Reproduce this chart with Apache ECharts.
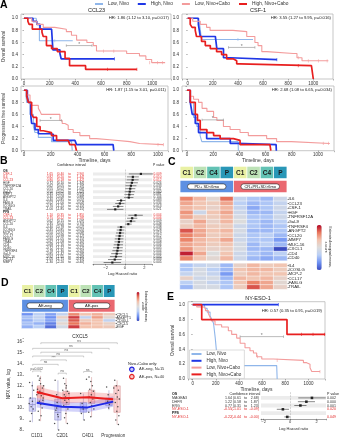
<!DOCTYPE html>
<html>
<head>
<meta charset="utf-8">
<script src="https://cdn.jsdelivr.net/npm/echarts@6.0.0/dist/echarts.min.js"></script>
<style>
html,body{margin:0;padding:0;background:#fff;}
#chart{width:341px;height:440px;}
</style>
</head>
<body>
<div id="chart"></div>
<script>
// ================= DATA =================
// Panel A / E : Kaplan-Meier steps [day, survival]
const kmNames = ['Low, Nivo','High, Nivo','Low, Nivo+Cabo','High, Nivo+Cabo'];

const osCCL23_lowNivo  = [[0,1],[95,1],[100,0.9],[120,0.63],[380,0.63]];
const osCCL23_highNivo = [[0,1],[70,0.95],[100,0.9],[125,0.82],[215,0.82],[225,0.48],[280,0.42],[290,0.33],[705,0.33]];
const osCCL23_lowCabo  = [[0,1],[60,0.95],[100,0.9],[150,0.85],[240,0.82],[330,0.78],[370,0.72],[410,0.64],[490,0.6],[540,0.55],[565,0.46],[750,0.46],[800,0.42],[900,0.38],[950,0.32],[995,0.27],[1100,0.27]];
const osCCL23_highCabo = [[0,1],[30,0.95],[40,0.9],[65,0.82],[140,0.77],[150,0.7],[175,0.55],[215,0.5],[260,0.45],[320,0.34],[355,0.22],[480,0.16],[880,0.16]];
const osCCL23_censor   = [[[240,0.63]],[[705,0.33]],[[620,0.46],[700,0.46],[980,0.27],[1040,0.27],[1080,0.27]],[[650,0.16],[880,0.16]]];
const osCCL23_bar      = [330,530,0.55];

const osCSF1_lowNivo  = [[0,1],[80,1],[95,0.9],[110,0.65],[520,0.65]];
const osCSF1_highNivo = [[0,1],[85,0.9],[100,0.7],[220,0.7],[232,0.5],[285,0.35],[340,0.32],[710,0.32]];
const osCSF1_lowCabo  = [[0,1],[40,0.95],[100,0.9],[150,0.85],[178,0.8],[360,0.78],[470,0.7],[535,0.6],[560,0.55],[590,0.45],[630,0.42],[840,0.42],[870,0.35],[910,0.3],[1120,0.3]];
const osCSF1_highCabo = [[0,1],[20,0.9],[35,0.85],[60,0.8],[70,0.7],[110,0.62],[140,0.55],[180,0.5],[230,0.45],[270,0.4],[310,0.33],[365,0.3],[390,0.25],[415,0.22],[985,0.22],[1000,0]];
const osCSF1_censor   = [[[400,0.65]],[[710,0.32]],[[880,0.35],[960,0.3],[1040,0.3],[1110,0.3]],[[880,0.22]]];
const osCSF1_bar      = [325,535,0.52];

const pfsCCL23_lowNivo  = [[0,1],[15,0.9],[20,0.8],[45,0.6],[70,0.4],[82,0.3],[107,0.22],[205,0.15],[355,0.15],[360,0]];
const pfsCCL23_highNivo = [[0,1],[25,0.9],[32,0.8],[50,0.6],[57,0.45],[82,0.35],[107,0.28],[195,0.27],[218,0.17],[380,0.17],[392,0.1],[665,0.1],[670,0]];
const pfsCCL23_lowCabo  = [[0,1],[20,0.92],[45,0.82],[57,0.75],[107,0.7],[120,0.65],[130,0.6],[268,0.5],[285,0.45],[305,0.42],[330,0.35],[367,0.3],[417,0.25],[490,0.2],[540,0.18],[640,0.15],[790,0.12],[863,0.1],[1040,0.1]];
const pfsCCL23_highCabo = [[0,1],[20,0.9],[32,0.8],[57,0.6],[70,0.55],[95,0.4],[120,0.33],[145,0.3],[205,0.25],[243,0.17],[330,0.17],[342,0.1],[380,0.08],[392,0]];
const pfsCCL23_censor   = [[],[],[[1000,0.1],[1040,0.1]],[]];
const pfsCCL23_bar      = [120,280,0.5];

const pfsCSF1_lowNivo  = [[0,1],[20,0.8],[50,0.55],[75,0.4],[100,0.25],[113,0.15],[390,0.15],[392,0]];
const pfsCSF1_highNivo = [[0,1],[25,0.8],[40,0.6],[63,0.45],[88,0.3],[150,0.2],[330,0.12],[380,0.1],[680,0.1],[682,0]];
const pfsCSF1_lowCabo  = [[0,1],[25,0.9],[50,0.85],[88,0.8],[115,0.7],[152,0.65],[203,0.55],[228,0.5],[278,0.4],[329,0.35],[405,0.3],[468,0.25],[608,0.2],[684,0.15],[797,0.12],[1090,0.12]];
const pfsCSF1_highCabo = [[0,1],[25,0.8],[63,0.6],[80,0.5],[101,0.35],[152,0.3],[203,0.25],[253,0.2],[354,0.17],[405,0.1],[633,0.08],[640,0]];
const pfsCSF1_censor   = [[],[],[[1040,0.12],[1080,0.12]],[]];
const pfsCSF1_bar      = [115,278,0.51];

const osNY_lowNivo  = [[0,1],[100,1],[107,0.95],[125,0.9],[150,0.85],[165,0.8],[180,0.75],[195,0.55],[207,0.35],[222,0.18],[726,0.18],[730,0]];
const osNY_highNivo = [[0,1],[740,1]];
const osNY_lowCabo  = [[0,1],[35,0.97],[92,0.95],[110,0.92],[135,0.88],[150,0.83],[164,0.78],[193,0.73],[250,0.7],[308,0.65],[337,0.6],[380,0.55],[410,0.48],[452,0.42],[495,0.38],[525,0.35],[553,0.3],[597,0.27],[697,0.25],[957,0.22],[985,0.2],[1014,0.15],[1029,0.1],[1100,0.1]];
const osNY_highCabo = [[0,1],[78,0.8],[815,0.6],[1145,0.6]];
const osNY_censor   = [[],[[740,1]],[[560,0.3],[730,0.25],[1100,0.1]],[[940,0.6],[1040,0.6],[1140,0.6]]];
const osNY_bar      = [410,785,0.57];

const hrTexts = ['HR: 1.86 (1.12 to 3.10, p=0.017)','HR: 3.55 (1.27 to 9.95, p=0.016)','HR: 1.87 (1.15 to 3.01, p=0.011)','HR: 2.68 (1.08 to 6.65, p=0.034)','HR: 0.57 (0.35 to 0.91, p=0.019)'];

// Panel B : forest plot
const bOsNames = ['CSF-1','IL6','CCL23','HGF','TNFRSF12A','CCL20','Gal-9','MMP7','ANGPT2','IL4','FASLG','ICOSLG','TRAIL'];
const bOsEst   = [1.65,0.82,0.80,0.72,0.62,0.55,0.50,0.45,0.40,-0.40,-0.52,-0.70,-1.00];
const bOsLow   = [0.40,0.20,0.18,0.10,0.05,0.02,-0.02,-0.05,-0.08,-0.85,-1.00,-1.25,-1.85];
const bOsHigh  = [2.90,1.44,1.42,1.34,1.19,1.08,1.02,0.95,0.88,0.05,-0.04,-0.15,-0.15];
const bOsP     = ['0.009','0.010','0.012','0.024','0.033','0.041','0.060','0.081','0.104','0.083','0.034','0.013','0.021'];
const bOsSig   = [1,1,1,0,0,0,0,0,0,0,0,0,0];
const bPfsNames = ['CSF-1','CCL23','ANGPT2','CCL20','IL4','ICOSLG','MCP-2','CCL17','FASLG','TRAIL','CD4','CD40','TNFRSF4','Gal-9','MUC-16','CXCL1','MMP7'];
const bPfsEst   = [1.10,0.75,0.62,0.35,-0.40,-0.45,-0.50,-0.55,-0.60,-0.62,-0.68,-0.72,-0.78,-0.85,-0.92,-1.05,-1.30];
const bPfsLow   = [0.35,0.22,0.15,0.00,-0.78,-0.85,-0.92,-0.98,-1.05,-1.08,-1.16,-1.22,-1.30,-1.42,-1.55,-1.75,-2.20];
const bPfsHigh  = [1.85,1.28,1.09,0.70,-0.02,-0.05,-0.08,-0.12,-0.15,-0.16,-0.20,-0.22,-0.26,-0.28,-0.29,-0.35,-0.40];
const bPfsP     = ['0.004','0.006','0.009','0.048','0.038','0.028','0.019','0.012','0.009','0.008','0.006','0.005','0.004','0.004','0.005','0.003','0.005'];
const bPfsSig   = [1,1,0,0,0,0,0,0,0,0,0,0,0,0,0,0,0];

// Panel C : heatmap (z-scores), columns: PD+SD<6mo C1,C2,C4,P | CR+PR+SD>6mo C1,C2,C4,P
const cHeaderCells = ['C1','C2','C4','P','C1','C2','C4','P'];
const cGroups = ['PD+ SD<6mo','CR+PR+SD>6mo'];
const cGenesTop = ['IL6','CCL23','CSF-1','HGF','TNFRSF12A','Gal-9','TNFRSF4','ANGPT2','CCL20','MMP7','MUC-16','CXCL1','CD4','CD40'];
const cZTop = [
 [0.8,0.5,0.1,0.9,-0.3,-0.5,-0.6,-0.2],
 [0.6,0.4,0.3,0.6,-0.4,-0.6,-0.5,-0.3],
 [0.5,0.4,0.2,0.5,-0.3,-0.7,-0.5,-0.2],
 [0.7,-0.2,0.4,0.6,-0.2,-0.6,-0.6,-0.3],
 [0.6,0.3,0.3,0.5,-0.1,-0.5,-0.5,-0.2],
 [0.2,0.6,0.2,0.5,0.0,-0.5,-0.6,-0.4],
 [0.3,0.5,0.3,0.3,-0.2,-0.5,-0.6,-0.5],
 [1.0,0.6,0.4,0.5,-0.1,-0.6,-0.6,-0.5],
 [0.8,0.6,0.3,0.4,-0.2,-0.5,-0.4,-0.6],
 [0.8,0.5,0.4,0.6,-0.2,-0.5,-0.5,-0.8],
 [0.6,0.5,0.3,0.4,-0.1,-0.6,-0.4,-0.6],
 [0.7,0.4,0.2,0.3,-0.1,-0.6,-0.6,-1.3],
 [1.2,0.6,0.0,0.4,-0.2,-0.5,-0.6,-0.4],
 [0.8,0.4,0.1,0.5,-0.2,-0.6,-0.7,-0.6]
];
const cGenesBottom = ['IL4','ICOSLG','MCP-2','CCL17','FASLG','TRAIL'];
const cZBottom = [
 [-0.5,-0.3,-0.2,-0.6,0.2,0.5,0.3,0.4],
 [-0.5,-0.1,-0.4,-0.6,0.4,0.5,0.5,0.3],
 [-0.3,-0.1,-0.3,-0.8,0.3,0.5,0.4,0.4],
 [0.2,-0.2,-0.1,-0.6,0.5,0.4,0.5,0.2],
 [-0.4,-0.1,-0.3,-0.5,0.4,0.8,0.6,0.1],
 [-0.6,-0.1,-0.1,-0.5,0.3,1.0,0.6,0.2]
];

// Panel D : heatmap + CXCL5 boxplot
const dHeaderCells = ['C1','C2','C4','P','C1','C2','C4','P'];
const dGroups = ['AE-neg','AE-pos'];
const dGenes = ['CXCL1','ANGPT1','CD40-L','CXCL5','EGF'];
const dZ = [
 [-0.8,-0.4,-0.7,-0.3,0.7,0.4,0.5,0.3],
 [-0.5,-0.3,-0.8,0.2,1.0,-0.3,0.6,0.1],
 [-0.6,-0.4,-0.7,-0.1,0.9,0.3,0.4,-0.3],
 [-0.5,-0.6,-0.9,0.1,0.8,0.5,0.4,0.2],
 [-0.6,-0.4,-1.0,-0.1,1.0,0.4,0.4,0.3]
];
const dTimepoints = ['C1D1','C2D1','C4D1','Progression'];
// box: [q1, median, q3, whiskerLow, whiskerHigh]
const dBlueBox = [[9.7,10.3,10.9,8.7,12.4],[8.9,9.6,10.8,8.0,12.5],[9.6,9.9,10.5,8.9,11.3],[10.2,10.5,10.9,9.8,11.6]];
const dRedBox  = [[10.5,11.3,12.0,8.8,12.9],[10.3,10.9,11.5,8.6,12.7],[10.4,11.0,11.6,9.2,12.8],[9.6,10.8,12.0,8.5,12.5]];
const dRedMean  = [11.45,10.88,10.96,10.78];
const dRedLo    = [10.95,10.40,10.50,10.30];
const dRedHi    = [11.95,11.40,11.45,11.30];
const dBlueMean = [10.47,10.11,10.05,10.57];
const dBlueLo   = [10.05,9.70,9.60,10.10];
const dBlueHi   = [10.90,10.55,10.50,11.05];
const dPoints = [
 [0.72,12.3],[0.75,10.9],[0.78,10.1],[0.8,9.5],[0.74,8.8],[0.83,10.6],[0.86,9.9],[0.7,10.4],[0.88,11.6],[0.82,12.0],
 [1.05,12.9],[1.1,12.5],[1.15,12.2],[1.22,11.8],[1.12,11.5],[1.08,11.3],[1.18,11.1],[1.25,10.9],[1.1,10.6],[1.16,10.3],
 [1.21,10.0],[1.06,9.7],[1.17,9.3],[1.1,8.9],[1.27,12.0],[1.03,11.7],[1.2,11.4],[1.0,11.2],[1.13,12.7],[1.24,10.7],
 [1.72,12.5],[1.78,11.2],[1.8,10.5],[1.75,9.8],[1.84,9.2],[1.7,8.6],[1.86,8.0],[1.78,10.0],[1.82,9.4],
 [2.05,12.7],[2.1,12.2],[2.15,11.8],[2.2,11.5],[2.08,11.2],[2.12,11.0],[2.25,10.8],[2.18,10.5],[2.06,10.2],[2.22,9.9],
 [2.14,9.5],[2.09,9.1],[2.2,8.6],[2.02,11.6],[2.16,12.0],[2.26,11.3],[2.1,10.7],
 [2.72,11.3],[2.78,10.4],[2.82,9.9],[2.75,9.5],[2.86,8.9],[2.8,10.1],
 [3.05,12.8],[3.12,12.4],[3.18,12.0],[3.08,11.7],[3.22,11.5],[3.14,11.2],[3.06,11.0],[3.2,10.8],[3.1,10.5],[3.16,10.2],
 [3.24,9.9],[3.04,9.6],[3.12,9.2],[2.95,12.6],
 [3.74,11.9],[3.8,11.2],[3.78,10.6],[3.85,10.3],[3.82,10.0],
 [4.06,12.5],[4.12,12.0],[4.2,11.6],[4.1,11.3],[4.16,11.0],[4.24,10.8],[4.08,10.5],[4.18,10.1],[4.14,9.7],[4.22,9.3],
 [4.1,8.9],[4.2,8.5],[4.02,11.8]
];
// brackets: [xStart, xEnd, y]
const dBrackets = [[1.16,4.16,15.9],[0.84,3.84,15.4],[1.16,3.16,15.05],[0.84,2.84,14.7],[1.16,2.16,14.35],[0.84,1.84,13.95],[0.84,1.16,13.35],[1.84,2.16,13.15],[2.84,3.16,13.3]];
const dBracketLabels = ['ns','ns','ns','ns','***','ns','p=0.002','ns','ns'];
const dYTicks = [8,9,10,11,12,13,14,15,16];

// Panel E : forest
const eNames = ['OS','MAGEA3','DHFR','ERG','NY-ESO-1','PFS','NY-ESO-1'];
const eHead  = [1,0,0,0,0,1,0];
const eEst   = [null,1.64,1.22,0.77,-0.55,null,-0.22];
const eLow   = [null,0.61,0.58,0.31,-1.01,null,-0.44];
const eHigh  = [null,2.68,1.87,1.23,-0.09,null,-0.00];
const eP     = [null,'0.002','0.000','0.001','0.020',null,'0.049'];
const eSig   = [0,0,0,0,1,0,1];

// ================= STYLE / BUILD =================
const FONT = 'Liberation Sans';
const KM_COLORS = ['#8fb6ea','#1f37e6','#f39c9c','#e81f1f'];
const KM_WIDTH = [1.1,1.7,1.1,1.7];
const CELL_COLORS = {C1:'#e9f1a4', C2:'#bde2b6', C4:'#62c2b4', P:'#2997b7'};
const GROUP_COLORS = ['#5e90e2','#ea6870'];
const HEAT_COLORS = ['#3b4cc0','#6f92f3','#b9cff6','#dcdcdc','#f3c3ae','#e9785d','#b40426'];

const bNames = ['OS'].concat(bOsNames, ['PFS'], bPfsNames);
const bHead  = [1].concat(bOsNames.map(()=>0), [1], bPfsNames.map(()=>0));
const bEst   = [null].concat(bOsEst, [null], bPfsEst);
const bLow   = [null].concat(bOsLow, [null], bPfsLow);
const bHigh  = [null].concat(bOsHigh, [null], bPfsHigh);
const bP     = [null].concat(bOsP, [null], bPfsP);
const bSig   = [0].concat(bOsSig, [0], bPfsSig);

const fmtNum = v => (v < 0 || Object.is(v, -0)) ? '-' + Math.abs(v).toFixed(2) : v.toFixed(2);
const wrap = (sig, s) => '{' + (sig ? 'r' : 'n') + '|' + s + '}';

const grids = [
 {left:21, top:14, width:150, height:65, show:true},        //0 TL
 {left:182, top:14, width:151, height:65, show:true},       //1 TR
 {left:21, top:86, width:147, height:64.7, show:true},      //2 BL
 {left:182, top:86, width:152, height:64.7, show:true},     //3 BR
 {left:93, top:169.5, width:59, height:94.5},               //4 B forest
 {left:180, top:196.7, width:107, height:63.9},             //5 C heat top
 {left:180, top:263.4, width:107, height:25.8},             //6 C heat bottom
 {left:180, top:166.7, width:107, height:25.6},             //7 C header
 {left:21.7, top:285, width:93.3, height:26.7},             //8 D header
 {left:21.7, top:313, width:93.3, height:15.3},             //9 D heat
 {left:24, top:338.4, width:102, height:91.6},              //10 D box
 {left:188, top:301.7, width:137, height:77.3, show:true},  //11 E KM
 {left:261, top:392.2, width:65, height:26.6}               //12 E forest
].map(g => Object.assign({outerBoundsMode:'none', containLabel:false, borderColor:'#b0b0b0', borderWidth:0.7, backgroundColor:'transparent'}, g));

function kmX(gi, min, max, name) {
  return {type:'value', gridIndex:gi, min, max, splitNumber:5,
    axisLine:{show:false, onZero:false}, splitLine:{show:false},
    axisTick:{show:true, length:1.5, lineStyle:{color:'#666', width:0.5}},
    axisLabel:{fontSize:4.5, color:'#333', margin:2, fontFamily:FONT,
      formatter:v => (v >= 0 && Math.abs(v/200 - Math.round(v/200)) < 1e-6) ? String(Math.round(v)) : ''},
    name: name || '', nameLocation:'middle', nameGap:7, nameTextStyle:{fontSize:5, color:'#333', fontFamily:FONT}};
}
function kmY(gi, max, name, gap) {
  return {type:'value', gridIndex:gi, min:0, max, interval:0.2,
    axisLine:{show:false}, splitLine:{show:false},
    axisTick:{show:true, length:1.5, lineStyle:{color:'#666', width:0.5}},
    axisLabel:{fontSize:4.5, color:'#333', margin:3, fontFamily:FONT, formatter:v => v > 1.001 ? '' : v.toFixed(1)},
    name: name || '', nameLocation:'middle', nameGap:gap || 14, nameTextStyle:{fontSize:4.6, color:'#333', fontFamily:FONT}};
}
function richFor(size) {
  return {n:{fontSize:size, color:'#333', fontFamily:FONT}, r:{fontSize:size, color:'#e32b2b', fontFamily:FONT}, h:{fontSize:size, color:'#111', fontWeight:'bold', fontFamily:FONT}};
}
function colAxis(gi, n, position, margin, align, fmt, size, extra) {
  return Object.assign({type:'category', gridIndex:gi, data:Array.from({length:n}, (_, i) => String(i)), inverse:true, position,
    axisLine:{show:false}, axisTick:{show:false}, splitLine:{show:false},
    axisLabel:{show:true, interval:0, margin, align, formatter:fmt, fontSize:size, fontFamily:FONT, color:'#333', rich:richFor(size)}}, extra || {});
}
function forestX(gi, min, max, gap) {
  return {type:'value', gridIndex:gi, min, max, splitNumber:3,
    axisLine:{show:true, lineStyle:{color:'#444', width:0.5}}, splitLine:{show:false},
    axisTick:{show:true, length:1.5, lineStyle:{color:'#444', width:0.5}},
    axisLabel:{fontSize:4, color:'#333', margin:1.5, fontFamily:FONT,
      formatter:v => (Math.abs(v - Math.round(v)) < 1e-6 && Math.round(v) % 2 === 0) ? (v < 0 ? '\u2212' : '') + Math.abs(Math.round(v)) : ''},
    name:'Log Hazard ratio', nameLocation:'middle', nameGap:gap || 7.5, nameTextStyle:{fontSize:4, color:'#333', fontFamily:FONT}};
}
function heatX(gi) {
  return {type:'category', gridIndex:gi, data:['0','1','2','3','4','5','6','7'], show:false};
}
function heatY(gi, names, size) {
  return {type:'category', gridIndex:gi, data:names, inverse:true, position:'right',
    axisLine:{show:false}, splitLine:{show:false},
    axisTick:{show:true, alignWithLabel:true, length:2, lineStyle:{color:'#333', width:0.5}},
    axisLabel:{show:true, interval:0, margin:1.5, fontSize:size, color:'#222', fontFamily:FONT}};
}
function headerX(gi) { return {type:'value', gridIndex:gi, min:0, max:8, show:false}; }
function headerY(gi) { return {type:'value', gridIndex:gi, min:0, max:2, inverse:true, show:false}; }

const bNameFmt = (v, i) => bHead[i] ? '{h|' + bNames[i] + '}' : wrap(bSig[i], bNames[i]);
const eNameFmt = (v, i) => eHead[i] ? '{h|' + eNames[i] + '}' : wrap(eSig[i], eNames[i]);

const xAxes = [
  kmX(0, -23.4, 1145.7, ''),          //0
  kmX(1, -45.4, 1156.8, ''),          //1
  kmX(2, -22.4, 1074.6, 'Timeline, days'), //2
  kmX(3, -38.2, 1122.1, 'Timeline, days'), //3
  forestX(4, -3.3, 2.8),              //4
  heatX(5),                           //5
  heatX(6),                           //6
  headerX(7),                         //7
  headerX(8),                         //8
  heatX(9),                           //9
  {type:'category', gridIndex:10, data:dTimepoints, axisLine:{show:false}, axisTick:{show:false}, splitLine:{show:false},
   axisLabel:{interval:0, fontSize:4.5, color:'#333', margin:3, fontFamily:FONT}},   //10
  {type:'value', gridIndex:10, min:0.5, max:4.5, show:false},  //11
  kmX(11, -40.6, 1143.5, 'Timeline, days'), //12
  forestX(12, -2.2, 2.7, 8.5)         //13
];

const yAxes = [
  kmY(0, 1.07, 'Overall survival', 15),          //0
  kmY(1, 1.07, ''),                              //1
  kmY(2, 1.07, 'Progression free survival', 15), //2
  kmY(3, 1.07, ''),                              //3
  colAxis(4, bNames.length, 'left', 90, 'left', bNameFmt, 3.2,
    {splitArea:{show:true, areaStyle:{color:['rgba(0,0,0,0)','#ececec']}}}),       //4
  colAxis(4, bNames.length, 'left', 40, 'right', (v,i) => bEst[i] == null ? '' : wrap(bSig[i], fmtNum(bEst[i])), 3.2),   //5
  colAxis(4, bNames.length, 'left', 29, 'right', (v,i) => bLow[i] == null ? '' : wrap(bSig[i], '(' + fmtNum(bLow[i])), 3.2), //6
  colAxis(4, bNames.length, 'left', 23.5, 'center', (v,i) => bEst[i] == null ? '' : wrap(bSig[i], 'to'), 3.2), //7
  colAxis(4, bNames.length, 'left', 9, 'right', (v,i) => bHigh[i] == null ? '' : wrap(bSig[i], fmtNum(bHigh[i]) + ')'), 3.2), //8
  colAxis(4, bNames.length, 'right', 1.5, 'left', (v,i) => bP[i] == null ? '' : wrap(bSig[i], bP[i]), 3.2), //9
  heatY(5, cGenesTop, 4.3),     //10
  heatY(6, cGenesBottom, 4.3),  //11
  headerY(7),                   //12
  headerY(8),                   //13
  heatY(9, dGenes, 3.6),        //14
  {type:'value', gridIndex:10, min:8, max:16.3, interval:1, axisLine:{show:false}, splitLine:{show:false},
   axisTick:{show:true, length:1.5, lineStyle:{color:'#666', width:0.5}},
   axisLabel:{fontSize:4.5, color:'#333', margin:2, fontFamily:FONT, formatter:v => dYTicks.indexOf(v) >= 0 ? String(v) : ''},
   name:'NPX value, log', nameLocation:'middle', nameGap:13, nameTextStyle:{fontSize:4.5, color:'#333', fontFamily:FONT}}, //15
  kmY(11, 1.04, 'Overall survival', 12),  //16
  colAxis(12, eNames.length, 'left', 89, 'left', eNameFmt, 3.6,
    {splitArea:{show:true, areaStyle:{color:['rgba(0,0,0,0)','#ececec']}}}),  //17
  colAxis(12, eNames.length, 'left', 29, 'right', (v,i) => eEst[i] == null ? '' : wrap(eSig[i], fmtNum(eEst[i])), 3.6),  //18
  colAxis(12, eNames.length, 'left', 20, 'right', (v,i) => eLow[i] == null ? '' : wrap(eSig[i], '(' + fmtNum(eLow[i])), 3.6), //19
  colAxis(12, eNames.length, 'left', 15.5, 'center', (v,i) => eEst[i] == null ? '' : wrap(eSig[i], 'to'), 3.6), //20
  colAxis(12, eNames.length, 'left', 2, 'right', (v,i) => eHigh[i] == null ? '' : wrap(eSig[i], fmtNum(eHigh[i]) + ')'), 3.6), //21
  colAxis(12, eNames.length, 'right', 1, 'left', (v,i) => eP[i] == null ? '' : wrap(eSig[i], eP[i]), 3.6) //22
];

// ---------- renderers ----------
function barRenderer(params, api) {
  const a = api.coord([api.value(0), api.value(2)]);
  const b = api.coord([api.value(1), api.value(2)]);
  const st = {stroke:'#9c9c9c', lineWidth:0.7};
  return {type:'group', children:[
    {type:'line', shape:{x1:a[0], y1:a[1], x2:b[0], y2:b[1]}, style:st},
    {type:'line', shape:{x1:a[0], y1:a[1]-1.2, x2:a[0], y2:a[1]+1.2}, style:st},
    {type:'line', shape:{x1:b[0], y1:b[1]-1.2, x2:b[0], y2:b[1]+1.2}, style:st},
    {type:'text', x:(a[0]+b[0])/2, y:a[1]+1.6, style:{text:'*', align:'center', verticalAlign:'bottom', textAlign:'center', textVerticalAlign:'bottom', fontSize:5, fontFamily:FONT, fill:'#777'}}
  ]};
}
function ciRenderer(params, api) {
  const a = api.coord([api.value(0), api.value(2)]);
  const b = api.coord([api.value(1), api.value(2)]);
  return {type:'line', shape:{x1:a[0], y1:a[1], x2:b[0], y2:b[1]}, style:{stroke:'#111', lineWidth:0.5}};
}
function headerRenderer(cells, groups, cellFont, groupFont, innerW) {
  return function (params, api) {
    const x0 = api.value(0), x1 = api.value(1), row = api.value(2);
    if (row === 0) {
      const a = api.coord([x0, 0]), b = api.coord([x1, 0.9]);
      const lab = cells[params.dataIndex];
      return {type:'group', children:[
        {type:'rect', shape:{x:a[0]+0.4, y:a[1], width:b[0]-a[0]-0.8, height:b[1]-a[1]}, style:{fill:CELL_COLORS[lab]}},
        {type:'text', x:(a[0]+b[0])/2, y:(a[1]+b[1])/2+0.3, style:{text:lab, align:'center', verticalAlign:'middle', textAlign:'center', textVerticalAlign:'middle', fontSize:cellFont, fontWeight:'bold', fontFamily:FONT, fill:'#1a1a1a'}}
      ]};
    }
    const gi = params.dataIndex - cells.length;
    const a = api.coord([x0, 1.1]), b = api.coord([x1, 2]);
    const w = b[0]-a[0], h = b[1]-a[1];
    const cx = (a[0]+b[0])/2, cy = (a[1]+b[1])/2;
    const iw = w*innerW, ih = h*0.46;
    return {type:'group', children:[
      {type:'rect', shape:{x:a[0]+0.4, y:a[1], width:w-0.8, height:h}, style:{fill:GROUP_COLORS[gi]}},
      {type:'rect', shape:{x:cx-iw/2, y:cy-ih/2, width:iw, height:ih, r:ih/2}, style:{fill:'#fff', stroke:'#222', lineWidth:0.6}},
      {type:'text', x:cx, y:cy+0.2, style:{text:groups[gi], align:'center', verticalAlign:'middle', textAlign:'center', textVerticalAlign:'middle', fontSize:groupFont, fontFamily:FONT, fill:'#111'}}
    ]};
  };
}
function boxRenderer(fill, stroke) {
  return function (params, api) {
    const x = api.value(0), q1 = api.value(1), med = api.value(2), q3 = api.value(3), lo = api.value(4), hi = api.value(5);
    const hw = 0.125;
    const tl = api.coord([x-hw, q3]), br = api.coord([x+hw, q1]);
    const w1 = api.coord([x, lo]), w2 = api.coord([x, hi]);
    const m1 = api.coord([x-hw, med]), m2 = api.coord([x+hw, med]);
    return {type:'group', children:[
      {type:'line', shape:{x1:w1[0], y1:w1[1], x2:w2[0], y2:w2[1]}, style:{stroke, lineWidth:0.5}},
      {type:'rect', shape:{x:tl[0], y:tl[1], width:br[0]-tl[0], height:br[1]-tl[1]}, style:{fill, stroke, lineWidth:0.5}},
      {type:'line', shape:{x1:m1[0], y1:m1[1], x2:m2[0], y2:m2[1]}, style:{stroke, lineWidth:0.7}}
    ]};
  };
}
function bandRenderer(fill) {
  return function (params, api) {
    const p1 = api.coord([api.value(0), api.value(2)]);
    const p2 = api.coord([api.value(3), api.value(5)]);
    const p3 = api.coord([api.value(3), api.value(4)]);
    const p4 = api.coord([api.value(0), api.value(1)]);
    return {type:'polygon', shape:{points:[p1,p2,p3,p4]}, style:{fill}};
  };
}
function bracketRenderer(params, api) {
  const y = api.value(2);
  const a = api.coord([api.value(0), y]), b = api.coord([api.value(1), y]);
  const a2 = api.coord([api.value(0), y-0.12]), b2 = api.coord([api.value(1), y-0.12]);
  return {type:'group', children:[
    {type:'polyline', shape:{points:[a2, a, b, b2]}, style:{stroke:'#9a9a9a', lineWidth:0.5, fill:null}},
    {type:'text', x:(a[0]+b[0])/2, y:a[1]-0.3, style:{text:dBracketLabels[params.dataIndex], align:'center', verticalAlign:'bottom', textAlign:'center', textVerticalAlign:'bottom', fontSize:3.4, fontFamily:FONT, fill:'#555'}}
  ]};
}

// ---------- series ----------
const series = [];
function addKM(xi, yi, curves, censors, bar) {
  curves.forEach((d, k) => series.push({type:'line', name:kmNames[k], xAxisIndex:xi, yAxisIndex:yi, data:d, step:'end',
    symbol:'none', showSymbol:false, lineStyle:{color:KM_COLORS[k], width:KM_WIDTH[k]}, itemStyle:{color:KM_COLORS[k]}, z:2+k, silent:true}));
  censors.forEach((d, k) => { if (d.length) series.push({type:'scatter', xAxisIndex:xi, yAxisIndex:yi, data:d, symbol:'rect',
    symbolSize:[0.7,3.2], itemStyle:{color:KM_COLORS[k]}, z:6, silent:true}); });
  series.push({type:'custom', xAxisIndex:xi, yAxisIndex:yi, data:[bar], encode:{x:[0,1], y:2}, renderItem:barRenderer, z:7, silent:true});
}
addKM(0, 0, [osCCL23_lowNivo, osCCL23_highNivo, osCCL23_lowCabo, osCCL23_highCabo], osCCL23_censor, osCCL23_bar);
addKM(1, 1, [osCSF1_lowNivo, osCSF1_highNivo, osCSF1_lowCabo, osCSF1_highCabo], osCSF1_censor, osCSF1_bar);
addKM(2, 2, [pfsCCL23_lowNivo, pfsCCL23_highNivo, pfsCCL23_lowCabo, pfsCCL23_highCabo], pfsCCL23_censor, pfsCCL23_bar);
addKM(3, 3, [pfsCSF1_lowNivo, pfsCSF1_highNivo, pfsCSF1_lowCabo, pfsCSF1_highCabo], pfsCSF1_censor, pfsCSF1_bar);
addKM(12, 16, [osNY_lowNivo, osNY_highNivo, osNY_lowCabo, osNY_highCabo], osNY_censor, osNY_bar);

function addForest(xi, yi, est, low, high, size) {
  const ci = [], pts = [];
  est.forEach((e, i) => { if (e != null) { ci.push([low[i], high[i], i]); pts.push([e, i]); } });
  series.push({type:'custom', xAxisIndex:xi, yAxisIndex:yi, data:ci, encode:{x:[0,1], y:2}, renderItem:ciRenderer, z:3, silent:true});
  series.push({type:'scatter', xAxisIndex:xi, yAxisIndex:yi, data:pts, symbol:'rect', symbolSize:size, itemStyle:{color:'#000'}, z:4, silent:true,
    markLine:{silent:true, symbol:['none','none'], label:{show:false}, lineStyle:{type:'dashed', color:'#aaa', width:0.5}, data:[{xAxis:0}]}});
}
addForest(4, 4, bEst, bLow, bHigh, 2.2);
addForest(13, 17, eEst, eLow, eHigh, 2.6);

function heatData(z) { const out = []; z.forEach((row, r) => row.forEach((v, c) => out.push([c, r, v]))); return out; }
const heatIdxC = [], heatIdxD = [];
heatIdxC.push(series.length);
series.push({type:'heatmap', xAxisIndex:5, yAxisIndex:10, data:heatData(cZTop), itemStyle:{borderColor:'#fff', borderWidth:0.5}, emphasis:{disabled:true}, silent:true});
heatIdxC.push(series.length);
series.push({type:'heatmap', xAxisIndex:6, yAxisIndex:11, data:heatData(cZBottom), itemStyle:{borderColor:'#fff', borderWidth:0.5}, emphasis:{disabled:true}, silent:true});
heatIdxD.push(series.length);
series.push({type:'heatmap', xAxisIndex:9, yAxisIndex:14, data:heatData(dZ), itemStyle:{borderColor:'#fff', borderWidth:0.4}, emphasis:{disabled:true}, silent:true});

function headerData(cells, groups) {
  return cells.map((c, i) => [i, i+1, 0]).concat(groups.map((g, j) => [j*4, j*4+4, 1]));
}
series.push({type:'custom', xAxisIndex:7, yAxisIndex:12, data:headerData(cHeaderCells, cGroups), encode:{x:[0,1], y:2},
  renderItem:headerRenderer(cHeaderCells, cGroups, 6.5, 4, 0.72), silent:true});
series.push({type:'custom', xAxisIndex:8, yAxisIndex:13, data:headerData(dHeaderCells, dGroups), encode:{x:[0,1], y:2},
  renderItem:headerRenderer(dHeaderCells, dGroups, 6, 4, 0.78), silent:true});

// D boxplot panel
series.push({type:'custom', name:'AE-neg, N=15', xAxisIndex:11, yAxisIndex:15, data:dBlueBox.map((b, i) => [i+1-0.17].concat(b)),
  encode:{x:0, y:[1,2,3,4,5]}, renderItem:boxRenderer('rgba(130,130,235,0.32)', 'rgba(120,120,190,0.85)'), itemStyle:{color:'#2a2ae0'}, z:1, silent:true});
series.push({type:'custom', name:'AE-pos, N=40', xAxisIndex:11, yAxisIndex:15, data:dRedBox.map((b, i) => [i+1+0.15].concat(b)),
  encode:{x:0, y:[1,2,3,4,5]}, renderItem:boxRenderer('rgba(242,130,130,0.32)', 'rgba(200,120,120,0.85)'), itemStyle:{color:'#e82a2a'}, z:1, silent:true});
function bandSegs(lo, hi) { const s = []; for (let i = 0; i < lo.length - 1; i++) s.push([i+1, lo[i], hi[i], i+2, lo[i+1], hi[i+1]]); return s; }
series.push({type:'custom', xAxisIndex:11, yAxisIndex:15, data:bandSegs(dBlueLo, dBlueHi), encode:{x:[0,3], y:[1,2,4,5]}, renderItem:bandRenderer('rgba(110,110,240,0.30)'), z:2, silent:true});
series.push({type:'custom', xAxisIndex:11, yAxisIndex:15, data:bandSegs(dRedLo, dRedHi), encode:{x:[0,3], y:[1,2,4,5]}, renderItem:bandRenderer('rgba(240,110,110,0.30)'), z:2, silent:true});
series.push({type:'scatter', xAxisIndex:11, yAxisIndex:15, data:dPoints, symbol:'circle', symbolSize:1.5, itemStyle:{color:'#333', opacity:0.85}, z:3, silent:true});
series.push({type:'line', xAxisIndex:11, yAxisIndex:15, data:dBlueMean.map((v, i) => [i+1, v]), symbol:'none', lineStyle:{color:'#1f2ae6', width:2}, z:4, silent:true});
series.push({type:'line', xAxisIndex:11, yAxisIndex:15, data:dRedMean.map((v, i) => [i+1, v]), symbol:'none', lineStyle:{color:'#ea1c1c', width:2}, z:4, silent:true});
series.push({type:'custom', xAxisIndex:11, yAxisIndex:15, data:dBrackets, encode:{x:[0,1], y:2}, renderItem:bracketRenderer, z:5, silent:true});

// ---------- text ----------
function txt(x, y, text, size, align, extra) {
  extra = extra || {};
  const st = {text, fontSize:size, fontFamily:FONT, fontWeight:extra.weight || 'normal', fill:extra.fill || '#222',
    align:align || 'left', verticalAlign:'middle', textAlign:align || 'left', textVerticalAlign:'middle'};
  if (extra.lineHeight) st.lineHeight = extra.lineHeight;
  return {type:'text', x, y, rotation:extra.rotation || 0, silent:true, z:100, style:st};
}
const texts = [
  txt(0, 5, 'A', 10.5, 'left', {weight:'bold', fill:'#000'}),
  txt(96.5, 10, 'CCL23', 5.5, 'center'),
  txt(258, 10, 'CSF-1', 5.5, 'center'),
  txt(169, 18.3, hrTexts[0], 4.2, 'right'),
  txt(331, 18.3, hrTexts[1], 4.2, 'right'),
  txt(166, 89.6, hrTexts[2], 4.2, 'right'),
  txt(332, 89.6, hrTexts[3], 4.2, 'right'),
  txt(0, 161, 'B', 10.5, 'left', {weight:'bold', fill:'#000'}),
  txt(71.5, 165.5, 'Confidence interval', 3.4, 'center'),
  txt(153, 165.5, 'P value', 3.4, 'left'),
  txt(168, 162, 'C', 10.5, 'left', {weight:'bold', fill:'#000'}),
  txt(328, 247, 'Estimated marginal means,\nz-score', 3.4, 'center', {rotation:-Math.PI/2, lineHeight:4}),
  txt(1, 283, 'D', 10.5, 'left', {weight:'bold', fill:'#000'}),
  txt(144.5, 306.5, 'Estimated marginal means,\nz-score', 2.6, 'center', {rotation:-Math.PI/2, lineHeight:3}),
  txt(80, 336.5, 'CXCL5', 4.8, 'center'),
  txt(128, 364, 'Nivo+Cabo only:', 4, 'left'),
  txt(167, 297, 'E', 10.5, 'left', {weight:'bold', fill:'#000'}),
  txt(258, 298.3, 'NY-ESO-1', 5.5, 'center'),
  txt(322, 311, hrTexts[4], 4.2, 'right'),
  txt(245, 394.1, 'Confidence interval', 3.6, 'center'),
  txt(327, 394.1, 'P value', 3.6, 'left')
];

const option = {
  animation:false,
  backgroundColor:'#fff',
  textStyle:{fontFamily:FONT},
  grid:grids,
  xAxis:xAxes,
  yAxis:yAxes,
  legend:[
    {data:kmNames, left:95, top:1.5, icon:'rect', itemWidth:8, itemHeight:2, itemGap:9, selectedMode:false, padding:0,
     textStyle:{fontSize:4.8, color:'#333', fontFamily:FONT}},
    {data:kmNames, left:189.5, top:350, orient:'vertical', icon:'rect', itemWidth:10, itemHeight:2, itemGap:1.8, selectedMode:false,
     padding:[1.5,3,1.5,2], borderColor:'#bbb', borderWidth:0.5, backgroundColor:'#fff', textStyle:{fontSize:4.6, color:'#333', fontFamily:FONT}},
    {data:[{name:'AE-neg, N=15', itemStyle:{color:'#c9c9f7', borderColor:'#2424e0', borderWidth:1.2}},
           {name:'AE-pos, N=40', itemStyle:{color:'#f7c9c9', borderColor:'#e42424', borderWidth:1.2}}],
     left:129, top:366.5, orient:'vertical', icon:'circle', itemWidth:4.5, itemHeight:4.5, itemGap:1.6, selectedMode:false, padding:0,
     textStyle:{fontSize:4, color:'#333', fontFamily:FONT}}
  ],
  visualMap:[
    {type:'continuous', seriesIndex:heatIdxC, min:-1.3, max:1.3, left:316.7, top:225, itemWidth:5, itemHeight:45, padding:0,
     calculable:false, inRange:{color:HEAT_COLORS}},
    {type:'continuous', seriesIndex:heatIdxD, min:-1.2, max:1.2, left:136.5, top:292, itemWidth:3, itemHeight:29, padding:0,
     calculable:false, inRange:{color:HEAT_COLORS}}
  ],
  series,
  graphic:{elements:texts}
};

const chart = echarts.init(document.getElementById('chart'), null, {renderer:'canvas', width:341, height:440});
chart.setOption(option);
</script>
</body>
</html>
